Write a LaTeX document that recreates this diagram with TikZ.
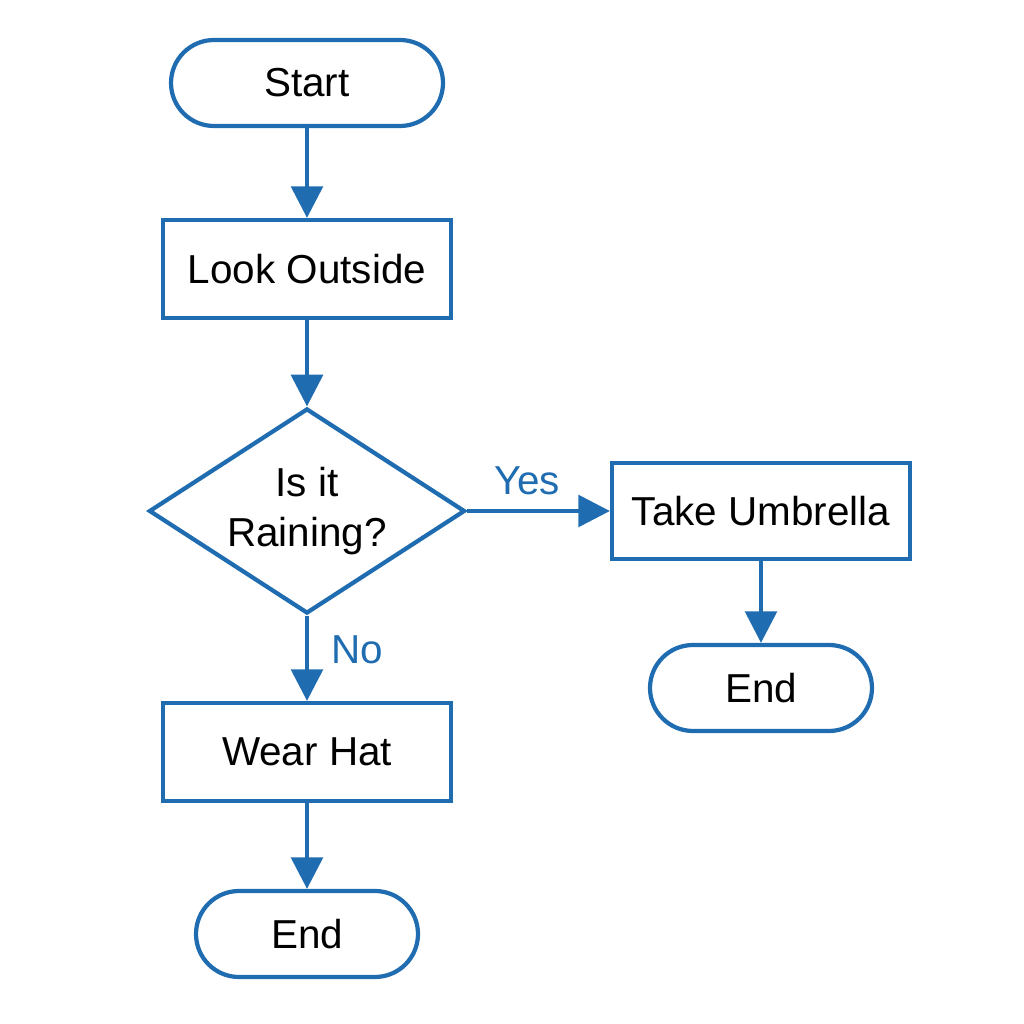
\documentclass[tikz,border=0pt]{standalone}
\usepackage{fontspec}
\setmainfont{Liberation Sans}
\usetikzlibrary{shapes.geometric,arrows.meta}
\definecolor{flowblue}{HTML}{1F6DB0}
\begin{document}
\begin{tikzpicture}[
    box/.style={draw=flowblue, line width=1.2pt, rectangle, inner sep=0pt, font=\fontsize{11.5}{14}\selectfont},
    term/.style={box, rounded corners=0.43cm},
    decision/.style={draw=flowblue, line width=1.2pt, diamond, aspect=1.54, inner sep=0pt, font=\fontsize{11.5}{14}\selectfont, align=center},
    flow/.style={draw=flowblue, line width=1.2pt, -{Triangle[width=9pt,length=9pt]}},
    lbl/.style={text=flowblue, font=\fontsize{11.5}{14}\selectfont}
]
    \useasboundingbox (0,0) rectangle (10.24,10.24);
    \node[term, minimum width=2.72cm, minimum height=0.86cm] (start) at (3.07,9.41) {Start};
    \node[box, minimum width=2.88cm, minimum height=0.98cm] (look) at (3.07,7.55) {Look Outside};
    \node[decision, minimum width=3.16cm, minimum height=2.05cm] (rain) at (3.07,5.13) {Is it\\Raining?};
    \node[box, minimum width=2.98cm, minimum height=0.96cm] (umb) at (7.61,5.13) {Take Umbrella};
    \node[term, minimum width=2.22cm, minimum height=0.86cm] (end1) at (7.61,3.36) {End};
    \node[box, minimum width=2.88cm, minimum height=0.98cm] (hat) at (3.07,2.72) {Wear Hat};
    \node[term, minimum width=2.22cm, minimum height=0.86cm] (end2) at (3.07,0.90) {End};
    \node[lbl] (yes) at (5.27,5.43) {Yes};
    \node[lbl] (no) at (3.57,3.74) {No};

    \draw[flow] (start) -- (look);
    \draw[flow] (look) -- (rain);
    \draw[flow] (rain.east) -- (umb);
    \draw[flow] (umb) -- (end1);
    \draw[flow] (rain.south) -- (hat);
    \draw[flow] (hat) -- (end2);
\end{tikzpicture}
\end{document}
